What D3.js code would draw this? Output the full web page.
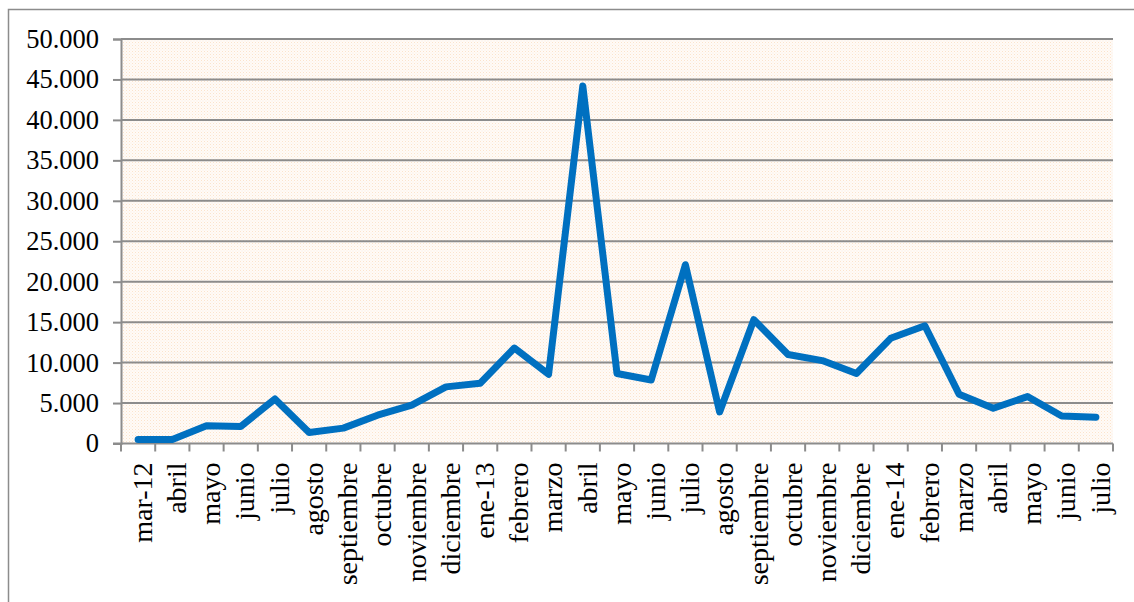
<!DOCTYPE html>
<html>
<head>
<meta charset="utf-8">
<script src="https://cdn.jsdelivr.net/npm/d3@7/dist/d3.min.js"></script>
<style>
  html, body { margin: 0; padding: 0; background: #ffffff; }
  svg { display: block; }
  text { font-family: "Liberation Serif", "Times New Roman", serif; fill: #000; }
</style>
</head>
<body>
<svg id="chart" width="1134" height="602"></svg>
<script>
// Monthly series, March 2012 to July 2014
const months = [
  "mar-12", "abril", "mayo", "junio", "julio", "agosto", "septiembre", "octubre",
  "noviembre", "diciembre", "ene-13", "febrero", "marzo", "abril", "mayo", "junio",
  "julio", "agosto", "septiembre", "octubre", "noviembre", "diciembre", "ene-14",
  "febrero", "marzo", "abril", "mayo", "junio", "julio"
];
const values = [
  500, 500, 2200, 2100, 5500, 1350, 1900, 3500,
  4750, 7000, 7450, 11800, 8550, 44200, 8650, 7850,
  22100, 3900, 15300, 11000, 10250, 8650, 13000,
  14550, 6100, 4350, 5800, 3400, 3250
];
const yTicks = [0, 5000, 10000, 15000, 20000, 25000, 30000, 35000, 40000, 45000, 50000];

const svg = d3.select("#chart");
const m = { left: 121, top: 39, right: 1113, bottom: 443.5 };

// Dotted peach fill for the plot area
const defs = svg.append("defs");
const pat = defs.append("pattern")
  .attr("id", "dots").attr("width", 3).attr("height", 3)
  .attr("patternUnits", "userSpaceOnUse");
pat.append("rect").attr("width", 3).attr("height", 3).attr("fill", "#fffbf7");
pat.append("rect").attr("x", 0).attr("y", 0).attr("width", 1).attr("height", 1).attr("fill", "#fbe3cc");
pat.append("rect").attr("x", 1.5).attr("y", 1.5).attr("width", 1).attr("height", 1).attr("fill", "#fdeedf");

// Outer chart frame
svg.append("rect")
  .attr("x", 8.5).attr("y", 9.5).attr("width", 1140).attr("height", 620)
  .attr("fill", "none").attr("stroke", "#8c8c8c").attr("stroke-width", 1.5);

const x = d3.scaleBand().domain(d3.range(months.length)).range([m.left, m.right]);
const y = d3.scaleLinear().domain([0, 50000]).range([m.bottom, m.top]);

svg.append("rect")
  .attr("x", m.left).attr("y", m.top)
  .attr("width", m.right - m.left).attr("height", m.bottom - m.top)
  .attr("fill", "url(#dots)");

// Horizontal gridlines
svg.append("g").selectAll("line").data(yTicks.filter(d => d > 0)).join("line")
  .attr("x1", m.left).attr("x2", m.right)
  .attr("y1", d => y(d)).attr("y2", d => y(d))
  .attr("stroke", "#8c8c8c").attr("stroke-width", 2);

// Y axis
const fmt = d => d === 0 ? "0" : d3.format(",")(d).replace(/,/g, ".");
const yAxis = svg.append("g")
  .attr("transform", `translate(${m.left},0)`)
  .call(d3.axisLeft(y).tickValues(yTicks).tickFormat(fmt).tickSize(8).tickPadding(14));
yAxis.select(".domain").attr("stroke", "#8c8c8c").attr("stroke-width", 2);
yAxis.selectAll(".tick line").attr("stroke", "#8c8c8c").attr("stroke-width", 2);
yAxis.selectAll(".tick text")
  .attr("font-size", 26.5).attr("fill", "#000");

// X axis: boundary ticks between months
const bounds = d3.range(months.length + 1).map(i => m.left + i * x.step());
svg.append("g").selectAll("line").data(bounds).join("line")
  .attr("x1", d => d).attr("x2", d => d)
  .attr("y1", m.bottom).attr("y2", m.bottom + 8)
  .attr("stroke", "#8c8c8c").attr("stroke-width", 2);
svg.append("line")
  .attr("x1", m.left - 8).attr("x2", m.right)
  .attr("y1", m.bottom).attr("y2", m.bottom)
  .attr("stroke", "#8c8c8c").attr("stroke-width", 2);

// Rotated month labels
svg.append("g").selectAll("text").data(months).join("text")
  .attr("transform", (d, i) => `translate(${x(i) + x.bandwidth() / 2 + 2},${m.bottom + 19}) rotate(-90)`)
  .attr("text-anchor", "end")
  .attr("dy", "0.42em")
  .attr("font-size", 28)
  .text(d => d);

// Data line
const line = d3.line()
  .x((d, i) => x(i) + x.bandwidth() / 2)
  .y(d => y(d));
svg.append("path")
  .datum(values)
  .attr("d", line)
  .attr("fill", "none")
  .attr("stroke", "#0070c0")
  .attr("stroke-width", 7)
  .attr("stroke-linejoin", "round")
  .attr("stroke-linecap", "round");
</script>
</body>
</html>
